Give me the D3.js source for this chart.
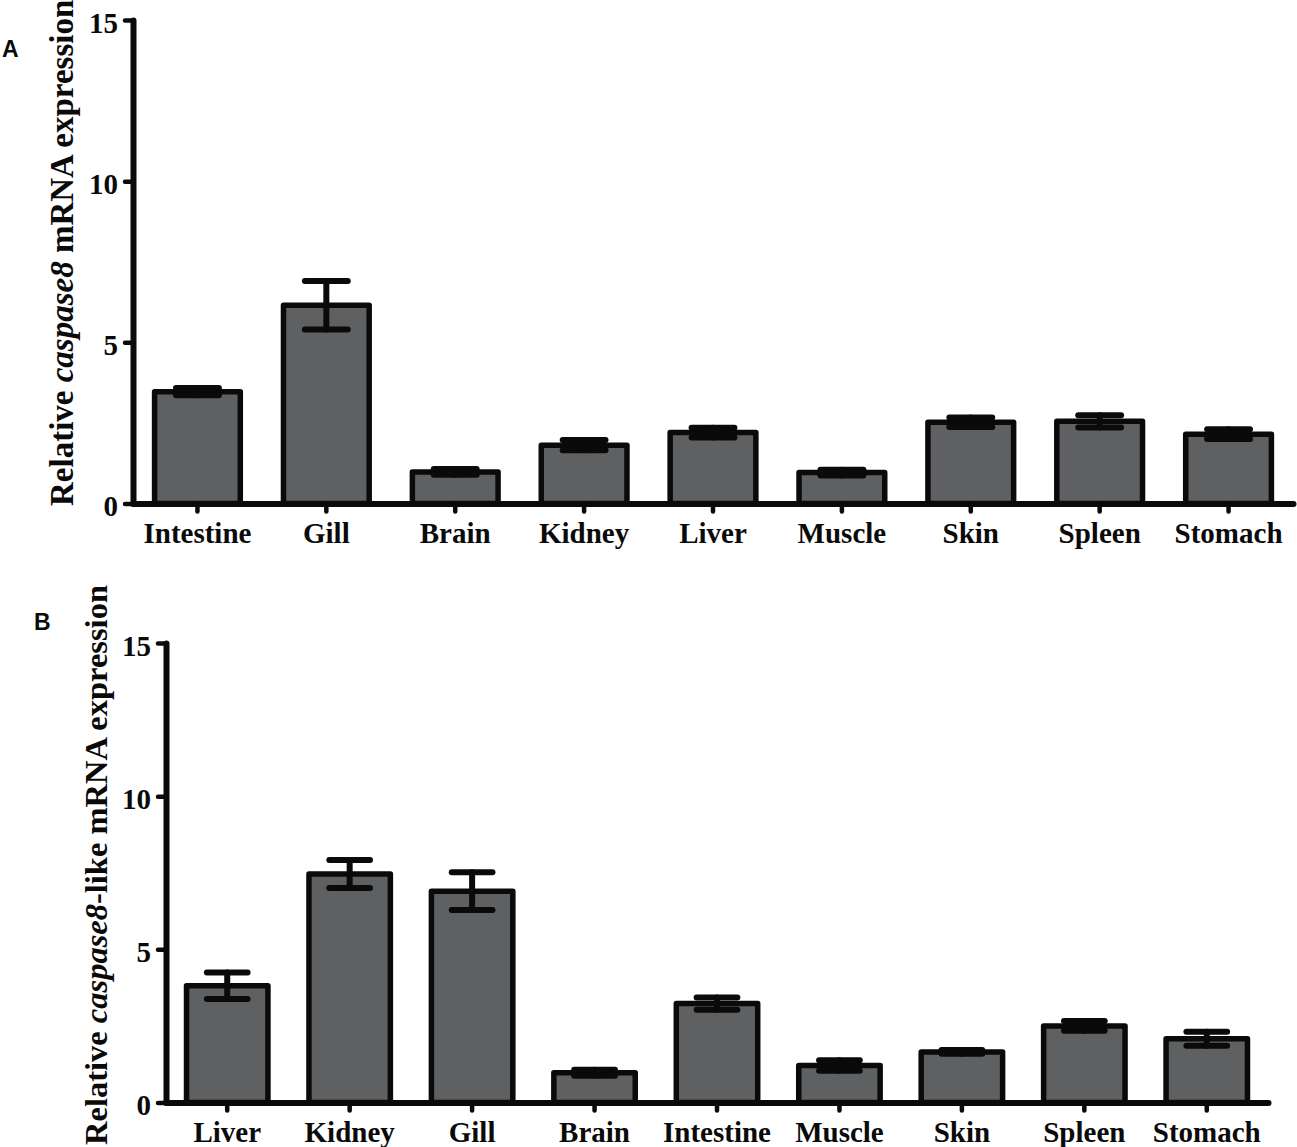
<!DOCTYPE html>
<html><head><meta charset="utf-8">
<script src="https://cdn.jsdelivr.net/npm/d3@7"></script>
<style>body{margin:0;background:#fff}</style>
</head><body><svg id="chart" width="1297" height="1147"></svg>
<script>
const categoriesA = ["Intestine","Gill","Brain","Kidney","Liver","Muscle","Skin","Spleen","Stomach"];
const meansA = [3.47, 6.15, 0.98, 1.81, 2.2, 0.96, 2.52, 2.55, 2.15];
const errorsA = [0.11, 0.75, 0.09, 0.16, 0.15, 0.09, 0.15, 0.19, 0.15];
const categoriesB = ["Liver","Kidney","Gill","Brain","Intestine","Muscle","Skin","Spleen","Stomach"];
const meansB = [3.81, 7.46, 6.9, 0.97, 3.23, 1.21, 1.65, 2.5, 2.08];
const errorsB = [0.43, 0.46, 0.62, 0.1, 0.2, 0.17, 0.06, 0.16, 0.23];
const yTicks = [0, 5, 10, 15];
const yMax = 15;

const svg = d3.select("#chart");
const SERIF = "'Liberation Serif','Times New Roman',serif";
const SANS = "'Liberation Sans',Arial,sans-serif";
const INK = "#0a0a0a";
const FILL = "#5f6062";

const panels = [
  {letter:"A", lx:2, ly:57, cats:categoriesA, means:meansA, errs:errorsA,
   left:133, right:1293, top:20, bottom:503.5, titleX:73, titleStart:506, titleSize:33,
   titleParts:[["Relative ",false],["caspase8",true],[" mRNA expression",false]]},
  {letter:"B", lx:34, ly:630, cats:categoriesB, means:meansB, errs:errorsB,
   left:166, right:1268, top:643, bottom:1102.5, titleX:107, titleStart:1145, titleSize:32.5,
   titleParts:[["Relative ",false],["caspase8",true],["-like mRNA expression",false]]}
];

panels.forEach(p => {
  const g = svg.append("g");
  const data = p.cats.map((c,i)=>({c, v:p.means[i], e:p.errs[i]}));
  const x = d3.scaleBand().domain(p.cats).range([p.left, p.right]).paddingInner(0.335).paddingOuter(0.1675);
  const y = d3.scaleLinear().domain([0, yMax]).range([p.bottom, p.top]);
  const bw = x.bandwidth();

  // bars
  g.selectAll("rect.bar").data(data).join("rect").attr("class","bar")
    .attr("x", d=>x(d.c)).attr("width", bw)
    .attr("y", d=>y(d.v)).attr("height", d=>y(0)-y(d.v))
    .attr("fill", FILL).attr("stroke", INK).attr("stroke-width", 5.5)
    .attr("stroke-linejoin","round");

  // error bars
  const eg = g.selectAll("g.err").data(data).join("g").attr("class","err")
    .attr("stroke", INK).attr("stroke-width", 6).attr("stroke-linecap","round");
  const cx = d => x(d.c) + bw/2;
  const capW = bw*0.25;
  eg.append("line").attr("x1",cx).attr("x2",cx).attr("y1",d=>y(d.v+d.e)).attr("y2",d=>y(d.v-d.e));
  eg.append("line").attr("x1",d=>cx(d)-capW).attr("x2",d=>cx(d)+capW).attr("y1",d=>y(d.v+d.e)).attr("y2",d=>y(d.v+d.e));
  eg.append("line").attr("x1",d=>cx(d)-capW).attr("x2",d=>cx(d)+capW).attr("y1",d=>y(d.v-d.e)).attr("y2",d=>y(d.v-d.e));

  // y axis
  const ya = g.append("g").attr("transform",`translate(${p.left},0)`)
    .call(d3.axisLeft(y).tickValues(yTicks).tickFormat(d3.format("d")).tickSize(8).tickSizeOuter(0).tickPadding(7));
  ya.select(".domain").attr("stroke", INK).attr("stroke-width", 6).attr("stroke-linecap","round");
  ya.selectAll(".tick line").attr("stroke", INK).attr("stroke-width", 4.5).attr("stroke-linecap","round");
  ya.selectAll(".tick text").attr("fill", INK).attr("font-family", SERIF).attr("font-weight","bold")
    .attr("font-size", 29).attr("dy","0.42em");

  // x axis
  const xa = g.append("g").attr("transform",`translate(0,${p.bottom})`)
    .call(d3.axisBottom(x).tickSize(8).tickSizeOuter(0).tickPadding(11));
  xa.select(".domain").attr("stroke", INK).attr("stroke-width", 6).attr("stroke-linecap","round");
  xa.selectAll(".tick line").attr("stroke", INK).attr("stroke-width", 4.5).attr("stroke-linecap","round");
  xa.selectAll(".tick text").attr("fill", INK).attr("font-family", SERIF).attr("font-weight","bold")
    .attr("font-size", 29).attr("y", 39).attr("dy", 0);

  // y title
  const t = g.append("text").attr("transform",`translate(${p.titleX},${p.titleStart}) rotate(-90)`)
    .attr("text-anchor","start").attr("font-family", SERIF).attr("font-weight","bold")
    .attr("font-size", p.titleSize).attr("fill", INK);
  p.titleParts.forEach(([s,it]) => t.append("tspan").text(s).attr("font-style", it ? "italic" : "normal"));

  // panel letter
  g.append("text").attr("x", p.lx).attr("y", p.ly).text(p.letter)
    .attr("font-family", SANS).attr("font-weight","bold").attr("font-size", 23).attr("fill", INK);
});
</script>
</body></html>
